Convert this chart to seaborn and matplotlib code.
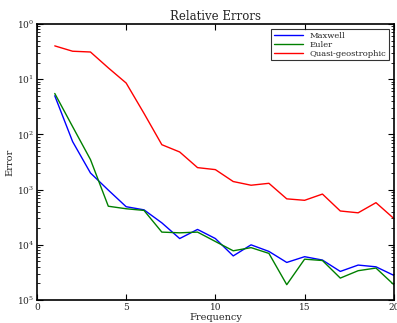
import numpy as np
import pandas as pd
import matplotlib
matplotlib.use("Agg")
import matplotlib.pyplot as plt
import seaborn as sns

freq = list(range(1, 21))
maxwell = [0.05, 0.0074, 0.0020, 0.00098, 0.00049, 0.00043, 0.00025, 0.00013, 0.00019, 0.00013,
           0.000063, 0.00010, 0.000076, 0.000048, 0.000061, 0.000053, 0.000033, 0.000043, 0.000040, 0.000028]
euler = [0.055, 0.0138, 0.0035, 0.00050, 0.00045, 0.00042, 0.00017, 0.000165, 0.00017, 0.000115,
         0.000078, 0.000089, 0.000070, 0.000019, 0.000055, 0.000052, 0.000025, 0.000034, 0.000038, 0.000019]
quasi = [0.40, 0.32, 0.31, 0.16, 0.085, 0.024, 0.0065, 0.0048, 0.0025, 0.0023,
         0.0014, 0.0012, 0.0013, 0.00068, 0.00064, 0.00083, 0.00041, 0.00038, 0.00058, 0.00030]
series_names = ["Maxwell", "Euler", "Quasi-geostrophic"]
colors = ["#0000ff", "#008000", "#ff0000"]
ytick_vals = [1e0, 1e-1, 1e-2, 1e-3, 1e-4, 1e-5]
ytick_labels = ["$10^{0}$", "$10^{1}$", "$10^{2}$", "$10^{3}$", "$10^{4}$", "$10^{5}$"]
xtick_vals = [0, 5, 10, 15, 20]

df = pd.DataFrame({
    "Frequency": freq * 3,
    "Error": maxwell + euler + quasi,
    "Series": [series_names[0]] * 20 + [series_names[1]] * 20 + [series_names[2]] * 20,
})

sns.set_style("ticks")
plt.rcParams["font.family"] = ["DejaVu Serif"]
plt.rcParams["mathtext.fontset"] = "dejavuserif"

fig = plt.figure(figsize=(3.97, 3.23), dpi=100)
ax = fig.add_axes([0.093, 0.071, 0.899, 0.855])
sns.lineplot(data=df, x="Frequency", y="Error", hue="Series", palette=colors,
             ax=ax, linewidth=1.0, legend=True)
ax.set_yscale("log")
ax.set_xlim(0, 20)
ax.set_ylim(1e-5, 1e0)
ax.set_yticks(ytick_vals)
ax.set_yticklabels(ytick_labels)
ax.set_xticks(xtick_vals)
ax.set_xticklabels([str(v) for v in xtick_vals])
ax.tick_params(which="both", direction="in", top=True, right=True, labelsize=6.5, color="black")
ax.tick_params(which="major", length=4, width=0.8, pad=2)
ax.tick_params(which="minor", length=2, width=0.6)
for s in ax.spines.values():
    s.set_linewidth(1.2)
    s.set_color("black")
ax.set_title("Relative Errors", fontsize=8.5, pad=3)
ax.set_xlabel("Frequency", fontsize=7, labelpad=1)
ax.set_ylabel("Error", fontsize=7, labelpad=2)
leg = ax.legend(loc="upper right", fontsize=6, frameon=True, fancybox=False,
                edgecolor="black", borderpad=0.3, labelspacing=0.1, handlelength=3.5,
                bbox_to_anchor=(0.997, 0.995))
leg.get_frame().set_linewidth(0.8)
for line in leg.get_lines():
    line.set_linewidth(1.0)
fig.savefig("out.png", dpi=100)
